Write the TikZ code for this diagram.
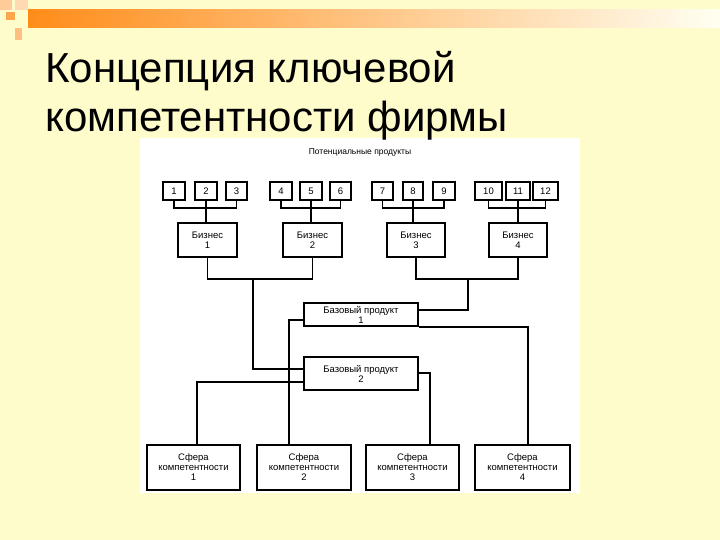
\documentclass[tikz,border=0pt]{standalone}
\usepackage{fontspec}
\setmainfont{Liberation Sans}
\begin{document}
\begin{tikzpicture}[x=1pt,y=-1pt,
 bx/.style={draw,line width=1.3pt,fill=white,align=center,font=\fontsize{9.5}{10}\selectfont,inner sep=0pt},
 ln/.style={line width=1.3pt}]
\useasboundingbox (0,0) rectangle (720,540);
\fill[yellow!20!white] (0,0) rectangle (720,540);
\shade[left color=orange!90,right color=white!95!yellow] (28,10) rectangle (720,28);
\fill[orange!40] (0,0) rectangle (12,10);
\fill[orange!70] (6,12) rectangle (15,20);
\fill[orange!30] (15,0) rectangle (28,10);
\fill[orange!50] (15,28) rectangle (22,40);
\fill[white] (140,138) rectangle (580,493);
\node[anchor=base west,inner sep=0pt,font=\fontsize{42}{42}\selectfont] (t1) at (45,83) {Концепция ключевой};
\node[anchor=base west,inner sep=0pt,font=\fontsize{42}{42}\selectfont] (t2) at (45,132) {компетентности фирмы};
\node[font=\fontsize{8.5}{9}\selectfont] (pp) at (360,152) {Потенциальные продукты};
% small boxes
\foreach \n/\a/\b in {1/163/185,2/195/217,3/226/247,4/270/292,5/300/322,6/330/351,7/372/393,8/403/423,9/433/455,10/475/502,11/506/530,12/533/558}{
 \node[bx,minimum width={\b-\a},minimum height=18] (p\n) at ({(\a+\b)/2},191) {\n};}
\foreach \n/\a/\b in {1/178/237,2/283/342,3/387/445,4/489/547}{
 \node[bx,minimum width={\b-\a},minimum height=34] (b\n) at ({(\a+\b)/2},240) {Бизнес\\\n};}
\node[bx,minimum width=114,minimum height=23] (bp1) at (361,314.5) {Базовый продукт\\1};
\node[bx,minimum width=114,minimum height=33] (bp2) at (361,373.5) {Базовый продукт\\2};
\foreach \n/\a/\b in {1/147/240,2/257/351,3/366/459,4/475/570}{
 \node[bx,minimum width={\b-\a},minimum height=45] (c\n) at ({(\a+\b)/2},467.5) {Сфера\\компетентности\\\n};}
% product brackets
\foreach \l/\m/\r/\b in {1/2/3/1,4/5/6/2,7/8/9/3,10/11/12/4}{
 \draw[ln] (p\l.south) |- (p\r.south |- 0,208) -- (p\r.south);
 \draw[ln] (p\m.south) -- (b\b.north -| p\m.south);}
% business to base
\draw[ln] (b1.south) |- (b2.south |- 0,279) -- (b2.south);
\draw[ln] (b3.south) |- (b4.south |- 0,279) -- (b4.south);
\coordinate (m12) at (253,279);
\coordinate (m34) at (468,279);
\draw[ln] (m12) |- (bp2.west |- 0,369);
\draw[ln] (m34) |- (bp1.east |- 0,310);
% base to competences
\draw[ln] (bp1.west |- 0,320) -| (c2.north -| 289,0);
\draw[ln] (bp1.east |- 0,327) -| (c4.north -| 528,0);
\draw[ln] (bp2.east |- 0,373) -| (c3.north -| 430,0);
\draw[ln] (bp2.west |- 0,382) -| (c1.north -| 197,0);
\end{tikzpicture}
\end{document}
